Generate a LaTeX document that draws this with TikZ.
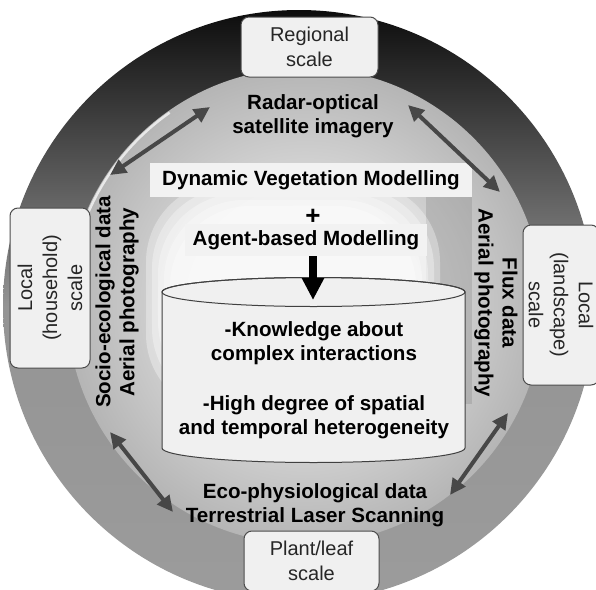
\documentclass[tikz,border=0pt]{standalone}
\usepackage{fontspec}
\setmainfont{Liberation Sans}
\usetikzlibrary{arrows.meta,calc}
\pgfdeclareradialshading{innerglow}{\pgfpoint{0bp}{0bp}}{color(0bp)=(black!12); color(15bp)=(black!18); color(25bp)=(black!29); color(50bp)=(black!29)}

\begin{document}
\begin{tikzpicture}
      [x=0.5pt,y=-0.5pt,
      scalebox/.style={draw=black!70,fill=black!6,rounded corners=4pt,line width=0.5pt,align=center,inner sep=0pt,font=\fontsize{10}{12.5}\selectfont,text=black!85},
      datalabel/.style={align=center,inner sep=0pt,font=\fontsize{10.3}{12}\selectfont\bfseries},
      modelbox/.style={fill=black!5,inner sep=0pt,font=\fontsize{10.3}{12}\selectfont\bfseries},
      linkarrow/.style={{Triangle[length=8pt,width=7.5pt]}-{Triangle[length=8pt,width=7.5pt]},line width=2pt,draw=black!72},
      bigarrow/.style={-{Triangle[length=11pt,width=10.5pt]},line width=4pt}]
     \useasboundingbox (0,0) rectangle (596,590);
     \path[top color=black!95,bottom color=black!39,middle color=black!42] (299,306) circle[radius=148pt];
     \path[shading=innerglow] (305,306) circle[radius=119pt];
     \begin{scope}
       \clip (305,306) circle[radius=119pt];
       \fill[black!45,opacity=0.35] (426,190) rectangle (472,404);
       \foreach \d in {0,6,12,18,24}
         \fill[white,opacity=0.33,rounded corners=40pt] (146+\d,182+\d) rectangle (440-\d,414-\d);
     \end{scope}
     \draw[white,opacity=0.7,line width=1.2pt] (305,306) ++(125:118pt) arc[start angle=125,end angle=162,radius=118pt];
     \node[scalebox,minimum width=68.5pt,minimum height=30pt] (regional) at (309.5,47) {Regional\\scale};
     \node[scalebox,minimum width=67.5pt,minimum height=30pt] (plant) at (311.5,561) {Plant/leaf\\scale};
     \node[scalebox,rotate=90,minimum width=80pt,minimum height=40pt] (household) at (50,288) {Local\\(household)\\scale};
     \node[scalebox,rotate=-90,minimum width=80pt,minimum height=38pt] (landscape) at (561,305) {Local\\(landscape)\\scale};
     \node[datalabel] (radar) at (313,116) {Radar-optical\\satellite imagery};
     \node[datalabel] (eco) at (315,505) {Eco-physiological data\\Terrestrial Laser Scanning};
     \node[datalabel,rotate=90] (socio) at (117,302) {Socio-ecological data\\Aerial photography};
     \node[datalabel,rotate=-90] (flux) at (496,303) {Flux data\\Aerial photography};
     \node[modelbox,minimum width=161pt,minimum height=17pt] (dvm) at (311,180) {Dynamic Vegetation Modelling};
     \node[inner sep=0pt,font=\fontsize{13}{13}\selectfont\bfseries] (plus) at (313,217) {+};
     \node[modelbox,minimum width=121pt,minimum height=16pt] (abm) at (306,240) {Agent-based Modelling};
     \path[fill=black!6,draw=black!75,line width=0.5pt] (162,292) -- (162,448)
        arc[start angle=180,end angle=360,x radius=75.75pt,y radius=7.25pt] -- (465,292)
        arc[start angle=0,end angle=180,x radius=75.75pt,y radius=7.25pt] -- cycle;
     \draw[black!75,line width=0.5pt] (313.5,292) ellipse[x radius=75.75pt,y radius=7.25pt];
     \node[datalabel] (store) at (314,380) {-Knowledge about\\complex interactions\\[13pt]-High degree of spatial\\and temporal heterogeneity};
     \coordinate (storetop) at (313,300);
     \draw[bigarrow] (abm.south -| storetop) -- (storetop);
     \coordinate (nwA) at (110,175);
     \coordinate (nwB) at (210,107);
     \coordinate (neA) at (408,105);
     \coordinate (neB) at (500,192);
     \coordinate (swA) at (110,432);
     \coordinate (swB) at (173,512);
     \coordinate (seA) at (508,413);
     \coordinate (seB) at (450,495);
     \foreach \a/\b in {nwA/nwB,neA/neB,swA/swB,seA/seB}
        \draw[linkarrow] (\a) -- (\b);
    \end{tikzpicture}
\end{document}
